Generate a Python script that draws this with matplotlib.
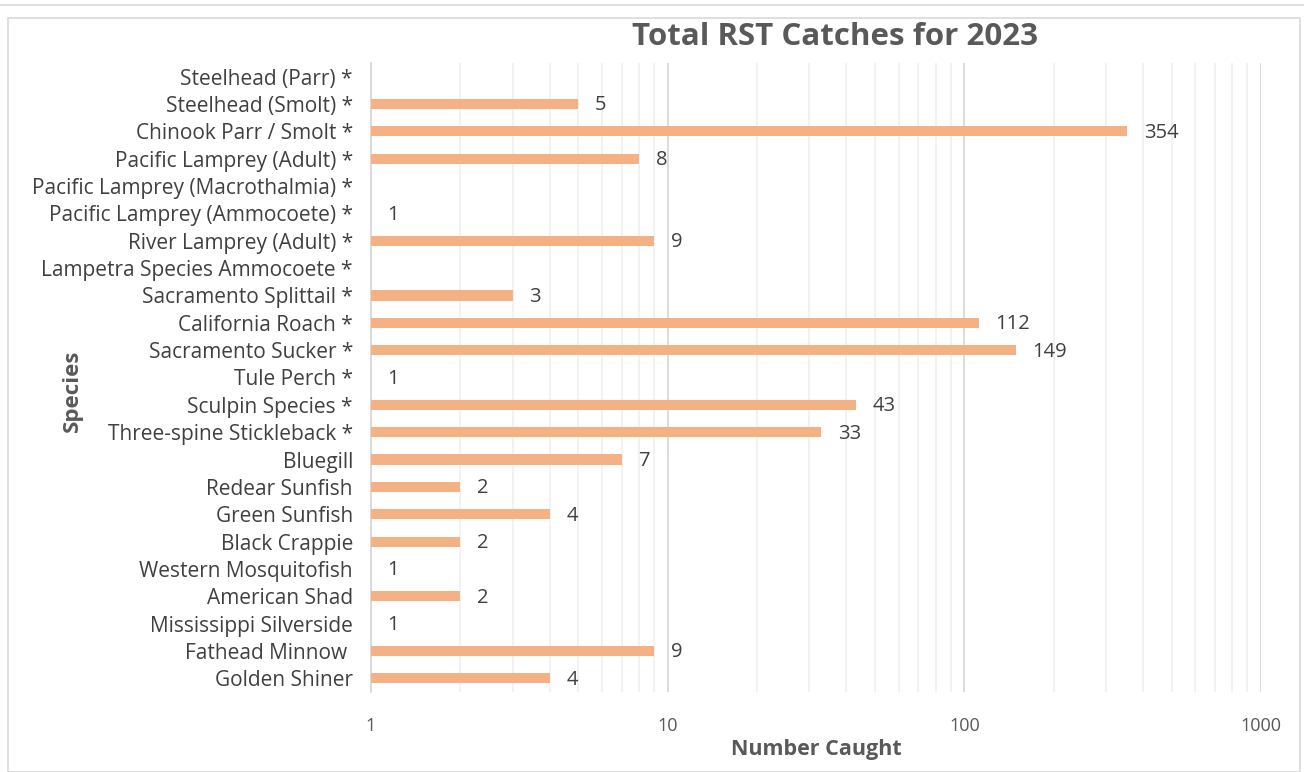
import matplotlib
matplotlib.use("Agg")
import matplotlib.pyplot as plt
from matplotlib.patches import Rectangle
from matplotlib.ticker import FixedLocator, NullFormatter

species = [
    "Steelhead (Parr) *", "Steelhead (Smolt) *", "Chinook Parr / Smolt *",
    "Pacific Lamprey (Adult) *", "Pacific Lamprey (Macrothalmia) *",
    "Pacific Lamprey (Ammocoete) *", "River Lamprey (Adult) *",
    "Lampetra Species Ammocoete *", "Sacramento Splittail *", "California Roach *",
    "Sacramento Sucker *", "Tule Perch *", "Sculpin Species *",
    "Three-spine Stickleback *", "Bluegill", "Redear Sunfish", "Green Sunfish",
    "Black Crappie", "Western Mosquitofish", "American Shad",
    "Mississippi Silverside", "Fathead Minnow ", "Golden Shiner",
]
counts = [0, 5, 354, 8, 0, 1, 9, 0, 3, 112, 149, 1, 43, 33, 7, 2, 4, 2, 1, 2, 1, 9, 4]
xticks = [1, 10, 100, 1000]

plt.rcParams['font.family'] = ['Open Sans', 'DejaVu Sans']
txt = '#404040'
grey = '#595959'

fig = plt.figure(figsize=(13.04, 7.72), dpi=100)
fig.patches.append(Rectangle((8/1304, 0), 1292/1304, (772-18)/772, transform=fig.transFigure,
                             fill=False, edgecolor='#D9D9D9', lw=1.2))
fig.patches.append(Rectangle((0, 1-5/772), 1, 0.0, transform=fig.transFigure,
                             fill=False, edgecolor='#D9D9D9', lw=1.2))

ax = fig.add_axes([371/1304, 1-692/772, (1261-371)/1304, (692-63)/772])
n = len(species)
ypos = list(range(n))
for y, v in zip(ypos, counts):
    if v <= 0:
        continue
    ax.barh(y, v - 1, left=1, height=0.37, color='#F4B183', zorder=3)
    ax.annotate(str(v), xy=(v, y), xytext=(12, -1), textcoords='offset points',
                ha='left', va='center', fontsize=14.5, color=txt)

ax.set_xscale('log')
ax.set_xlim(1, 1000)
ax.set_ylim(n - 0.5, -0.5)
ax.set_yticks(ypos)
ax.set_yticklabels(species, fontsize=15, color=txt)
ax.xaxis.set_major_locator(FixedLocator(xticks))
ax.set_xticklabels([str(t) for t in xticks], fontsize=13, color=grey)
ax.xaxis.set_minor_formatter(NullFormatter())
ax.tick_params(axis='both', which='both', length=0)
ax.tick_params(axis='x', pad=18)
ax.tick_params(axis='y', pad=13)
ax.grid(True, which='major', axis='x', color='#D9D9D9', lw=1.3, zorder=0)
ax.grid(True, which='minor', axis='x', color='#EFEFEF', lw=1.1, zorder=0)
for s in ['top', 'right', 'bottom']:
    ax.spines[s].set_visible(False)
ax.spines['left'].set_color('#D9D9D9')
ax.spines['left'].set_linewidth(1.3)

ax.set_xlabel('Number Caught', fontsize=15.5, fontweight='bold', color=grey, labelpad=3)
fig.text(72/1304, 1-391/772, 'Species', rotation=90, ha='center', va='center',
         fontsize=16, fontweight='bold', color=grey)
fig.text(835/1304, 1-37/772, 'Total RST Catches for 2023', ha='center', va='center',
         fontsize=22.5, fontweight='bold', color=grey)

fig.savefig('out.png', dpi=100)
